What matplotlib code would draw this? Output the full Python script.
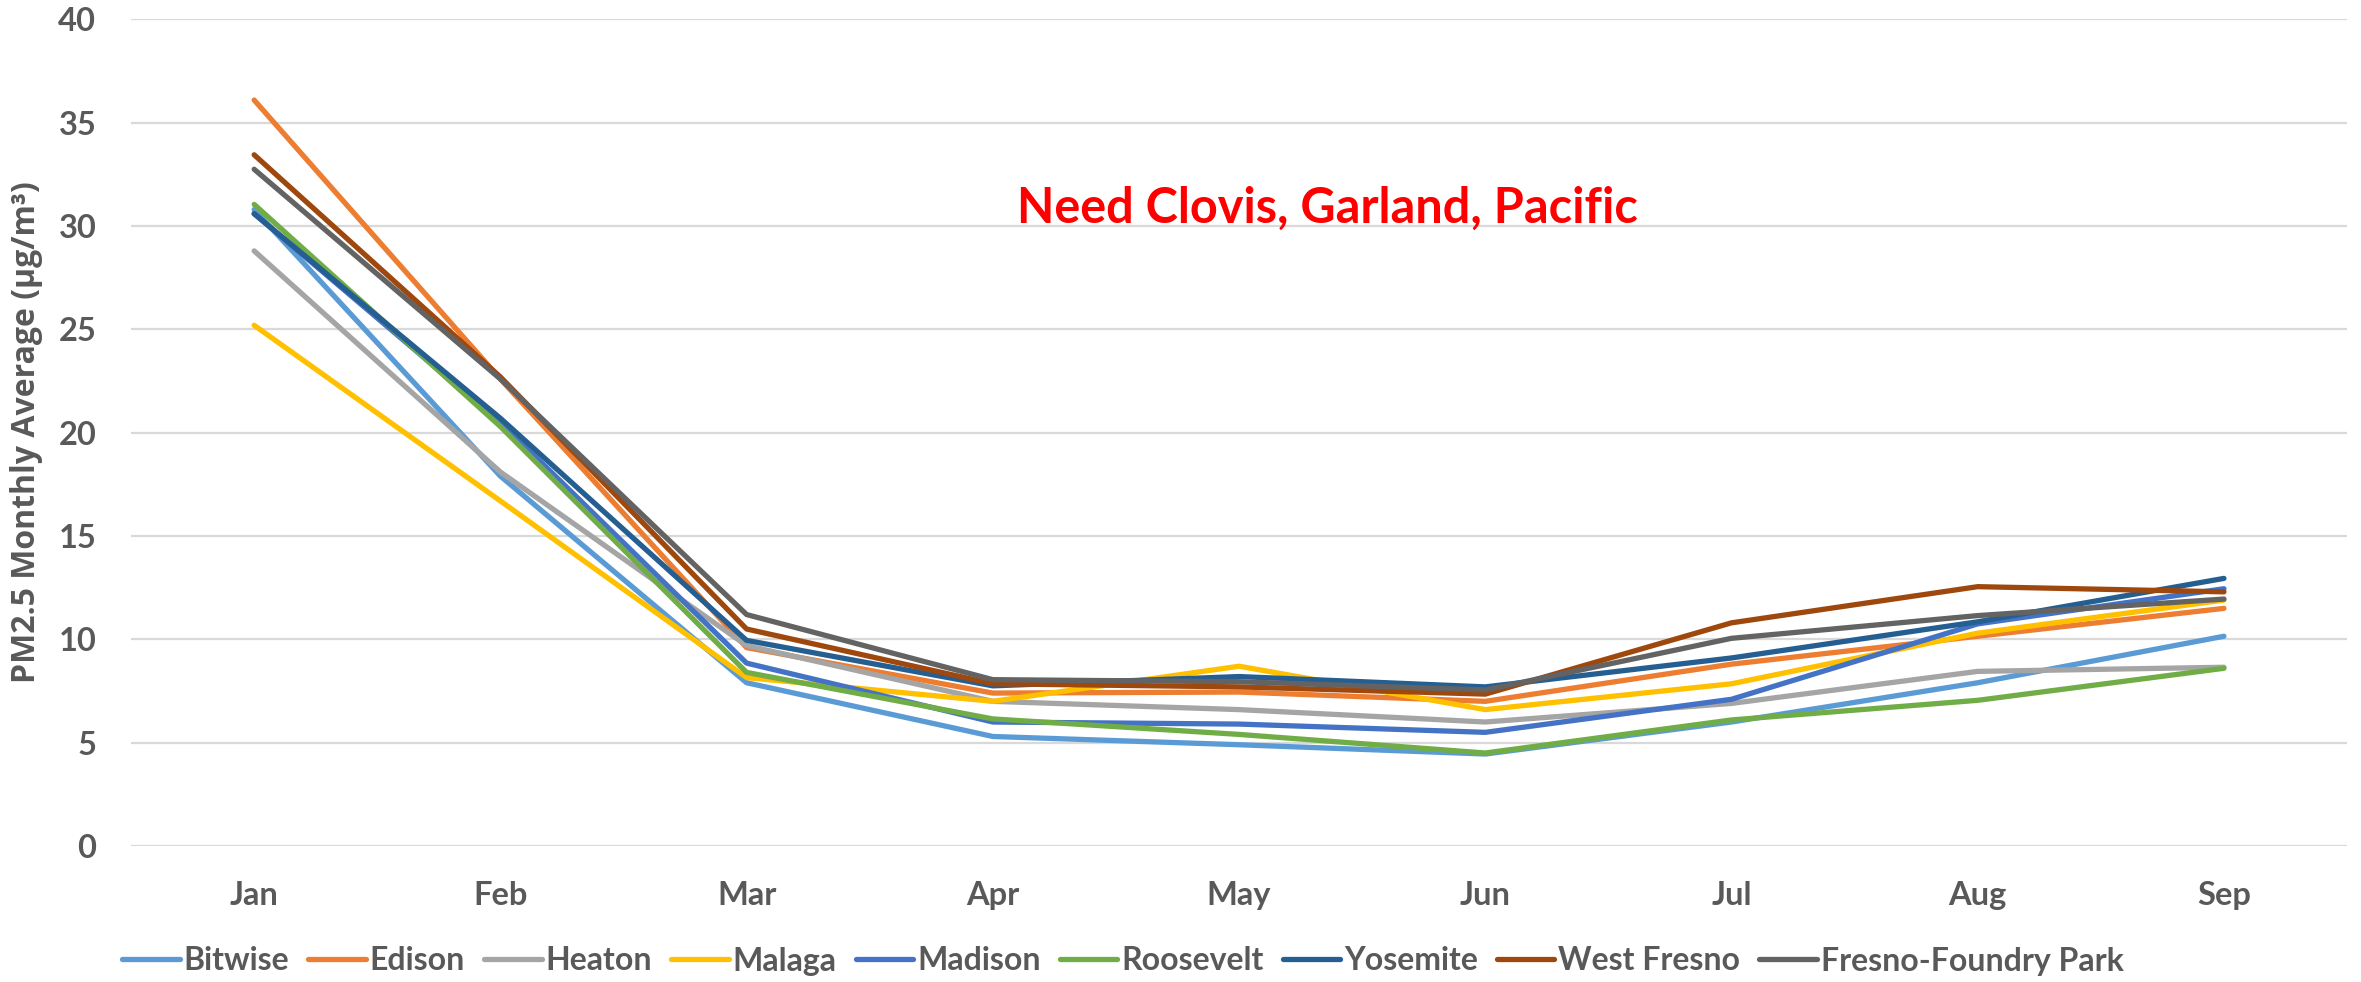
import matplotlib
matplotlib.use("Agg")
import matplotlib.pyplot as plt

months = ['Jan', 'Feb', 'Mar', 'Apr', 'May', 'Jun', 'Jul', 'Aug', 'Sep']

bitwise = [30.8, 17.9, 7.9, 5.3, 4.9, 4.45, 6.0, 7.9, 10.15]
edison = [36.1, 22.6, 9.6, 7.4, 7.45, 7.0, 8.8, 10.15, 11.5]
heaton = [28.8, 18.1, 9.7, 7.0, 6.6, 6.0, 6.9, 8.45, 8.65]
malaga = [25.2, 16.7, 8.15, 7.0, 8.7, 6.6, 7.85, 10.3, 11.9]
madison = [30.6, 20.5, 8.85, 6.0, 5.9, 5.5, 7.1, 10.75, 12.45]
roosevelt = [31.05, 20.3, 8.4, 6.15, 5.4, 4.5, 6.1, 7.05, 8.6]
yosemite = [30.6, 20.7, 9.95, 7.75, 8.2, 7.7, 9.1, 10.85, 12.95]
west_fresno = [33.45, 22.7, 10.5, 7.85, 7.7, 7.35, 10.8, 12.55, 12.3]
foundry_park = [32.75, 22.6, 11.2, 8.05, 7.95, 7.55, 10.05, 11.15, 11.95]

sites = ['Bitwise', 'Edison', 'Heaton', 'Malaga', 'Madison', 'Roosevelt',
         'Yosemite', 'West Fresno', 'Fresno-Foundry Park']
series = [bitwise, edison, heaton, malaga, madison, roosevelt,
          yosemite, west_fresno, foundry_park]
colors = ['#5B9BD5', '#ED7D31', '#A5A5A5', '#FFC000', '#4472C4', '#70AD47',
          '#255E91', '#9E480E', '#636363']

text_gray = '#595959'
plt.rcParams['font.family'] = ['Lato', 'DejaVu Sans']
plt.rcParams['font.weight'] = 'bold'

fig = plt.figure(figsize=(23.61, 9.82), dpi=100)
ax = fig.add_axes([0.0555, 0.1385, 0.9386, 0.8417])

x = list(range(len(months)))
for name, vals, c in zip(sites, series, colors):
    ax.plot(x, vals, color=c, lw=3.8, label=name, solid_capstyle='round',
            solid_joinstyle='round')

ax.set_xlim(-0.5, len(months) - 0.5)
ax.set_ylim(0, 40)
ax.set_yticks(range(0, 41, 5))
ax.set_xticks(x)
ax.set_xticklabels(months)
ax.grid(axis='y', color='#D9D9D9', lw=1.6)
ax.set_axisbelow(True)
for s in ax.spines.values():
    s.set_visible(False)
ax.tick_params(axis='both', length=0, labelsize=23.5, labelcolor=text_gray)
ax.tick_params(axis='x', pad=25)
ax.tick_params(axis='y', pad=25)

fig.text(27 / 2361, 1 - 432 / 982, 'PM2.5 Monthly Average (µg/m³)', rotation=90,
         ha='center', va='center', fontsize=23, color=text_gray,
         family=['Open Sans', 'DejaVu Sans'], fontweight='bold')

ax.text(4.36, 30.15, 'Need Clovis, Garland, Pacific', color='#FF0000',
        fontsize=35, fontweight='bold', ha='center', va='baseline')

fig.legend(loc='center', bbox_to_anchor=(1123 / 2361, 1 - 961 / 982),
           ncol=len(sites), frameon=False, fontsize=23, labelcolor=text_gray,
           handlelength=1.8, handletextpad=0.12, columnspacing=0.6)

fig.savefig('out.png', dpi=100)
